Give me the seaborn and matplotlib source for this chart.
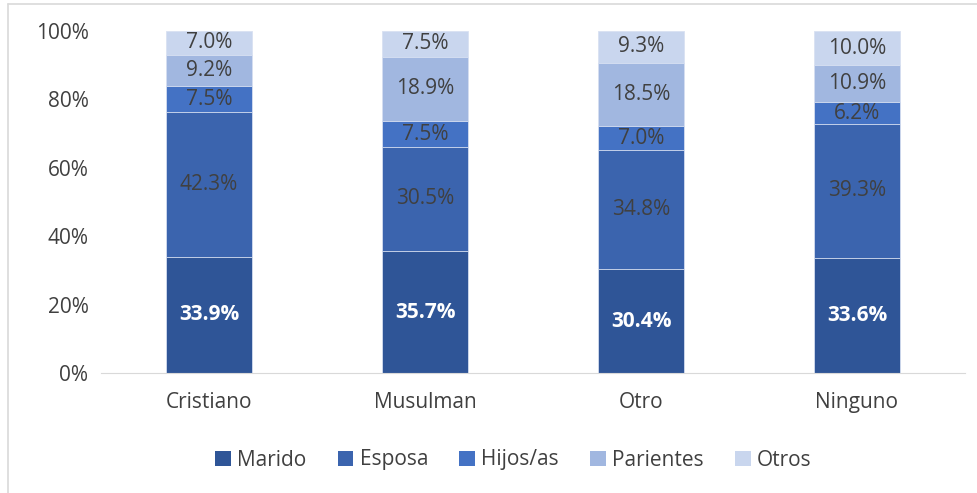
import matplotlib
matplotlib.use("Agg")
import matplotlib.pyplot as plt
import pandas as pd
import seaborn as sns
from matplotlib.lines import Line2D
from matplotlib.patches import Patch

# data (percent)
religions = ["Cristiano", "Musulman", "Otro", "Ninguno"]
series = ["Marido", "Esposa", "Hijos/as", "Parientes", "Otros"]
marido = [33.9, 35.7, 30.4, 33.6]
esposa = [42.3, 30.5, 34.8, 39.3]
hijos = [7.5, 7.5, 7.0, 6.2]
parientes = [9.2, 18.9, 18.5, 10.9]
otros = [7.0, 7.5, 9.3, 10.0]

colors = ["#2F5597", "#3B64AE", "#4472C4", "#A1B7E0", "#C9D6EE"]

df = pd.DataFrame({"Religion": religions, "Marido": marido, "Esposa": esposa,
                   "Hijos/as": hijos, "Parientes": parientes, "Otros": otros})
# normalise to 100 for the stacked bars
vals = df[series]
df_pct = vals.div(vals.sum(axis=1), axis=0) * 100
cum = df_pct.cumsum(axis=1)

sns.set_style("white")
plt.rcParams["font.family"] = ["Open Sans", "DejaVu Sans"]

fig = plt.figure(figsize=(9.78, 4.93), dpi=100)
ax = fig.add_axes([101 / 978, 1 - 373 / 493, 864 / 978, 342 / 493])

# draw from the top layer down so each cumulative bar sits behind the next
for i in range(len(series) - 1, -1, -1):
    sns.barplot(x=df["Religion"], y=cum[series[i]], color=colors[i], ax=ax,
                width=0.4, edgecolor="#D9E1F2", linewidth=0.6, saturation=1)

# value labels
for j in range(len(religions)):
    bottom = 0
    for i, s in enumerate(series):
        h = df_pct[s].iloc[j]
        y = bottom + h / 2
        if i == 0:
            ax.text(j, y, f"{df[s].iloc[j]:.1f}%", ha="center", va="center",
                    color="white", fontsize=15, fontweight="bold")
        else:
            ax.text(j, y, f"{df[s].iloc[j]:.1f}%", ha="center", va="center",
                    color="#404040", fontsize=15)
        bottom += h

ax.set_ylim(0, 100)
ax.set_xlim(-0.5, 3.5)
ax.set_yticks([0, 20, 40, 60, 80, 100])
ax.set_yticklabels([f"{v}%" for v in [0, 20, 40, 60, 80, 100]])
ax.set_xlabel("")
ax.set_ylabel("")
ax.tick_params(axis="both", labelsize=15, colors="#404040", length=0)
ax.tick_params(axis="y", pad=9)
ax.tick_params(axis="x", pad=14)
sns.despine(ax=ax, left=True)
ax.spines["bottom"].set_color("#D9D9D9")

handles = [Patch(facecolor=c, edgecolor="none") for c in colors]
fig.legend(handles, series, loc="center", bbox_to_anchor=(0.525, 1 - 460 / 493),
           ncol=5, frameon=False, fontsize=15, handlelength=0.75, handleheight=0.75,
           columnspacing=1.5, handletextpad=0.3, labelcolor="#404040")

# light outer frame (left and top edges)
fig.add_artist(Line2D([8 / 978, 8 / 978], [0, 1 - 4 / 493], color="#D9D9D9", lw=1.2,
                      transform=fig.transFigure))
fig.add_artist(Line2D([8 / 978, 1], [1 - 4 / 493, 1 - 4 / 493], color="#D9D9D9", lw=1.2,
                      transform=fig.transFigure))

fig.savefig("out.png", dpi=100)
